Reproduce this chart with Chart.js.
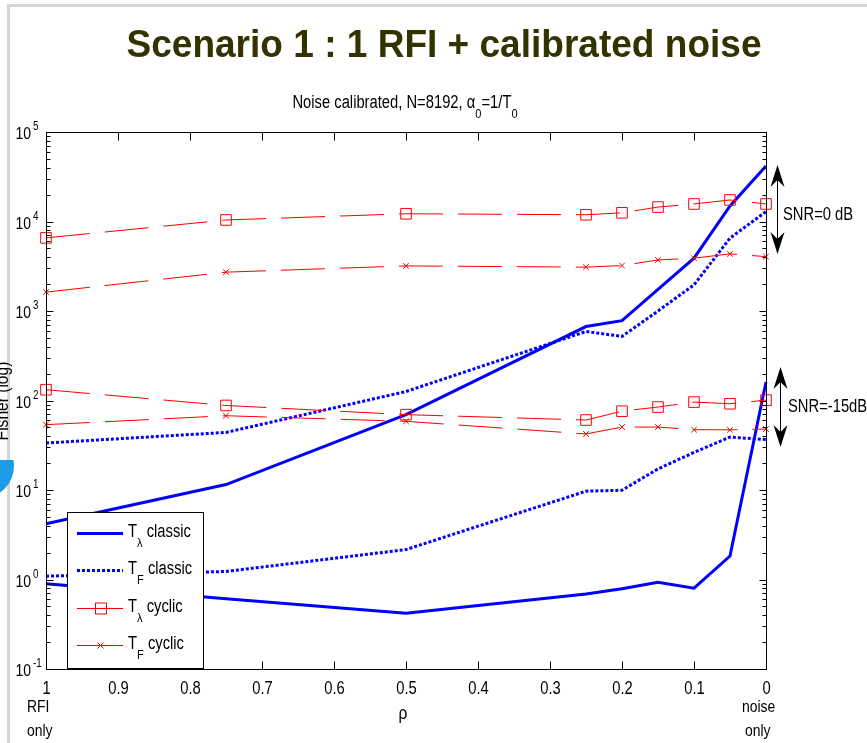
<!DOCTYPE html>
<html>
<head>
<meta charset="utf-8">
<script src="https://cdn.jsdelivr.net/npm/chart.js@4/dist/chart.umd.min.js"></script>
<style>
  html, body { margin: 0; padding: 0; background: #fff; }
  canvas { display: block; }
</style>
</head>
<body>
<canvas id="c" width="867" height="743"></canvas>
<script>
// ---------------- data ----------------
const rho = [1, 0.75, 0.5, 0.25, 0.2, 0.15, 0.1, 0.05, 0];

// SNR = 0 dB
const tLambdaClassic0 = [4.2, 11.5, 69.5, 670, 780, 1740, 3890, 14900, 41800];
const tFClassic0      = [33.5, 44, 126, 590, 520, 1000, 1960, 6520, 12900];
const tLambdaCyclic0  = [6560, 10400, 12200, 11900, 12500, 14500, 15700, 17400, 15700];
const tFCyclic0       = [1625, 2716, 3190, 3090, 3220, 3720, 3890, 4350, 4050];

// SNR = -15 dB
const tLambdaClassic15 = [0.895, 0.61, 0.42, 0.69, 0.79, 0.93, 0.80, 1.83, 161];
const tFClassic15      = [1.09, 1.23, 2.16, 9.7, 9.95, 17.2, 26.3, 39, 36.6];
const tLambdaCyclic15  = [132, 88, 69.5, 60.5, 76, 84.5, 96, 92, 101];
const tFCyclic15       = [53.7, 67.6, 58.5, 42.3, 50.5, 50.5, 47.2, 47, 48];

const xTickValues = [1, 0.9, 0.8, 0.7, 0.6, 0.5, 0.4, 0.3, 0.2, 0.1, 0];
const xTickLabels = ['1', '0.9', '0.8', '0.7', '0.6', '0.5', '0.4', '0.3', '0.2', '0.1', '0'];
const yTickExponents = [-1, 0, 1, 2, 3, 4, 5];

const titleText = 'Scenario 1 : 1 RFI + calibrated noise';
const xAxisTitle = 'ρ';
const yAxisTitle = 'Fisher (log)';
const snrLabels = ['SNR=0 dB', 'SNR=-15dB'];

// ---------------- styles ----------------
const BLUE = '#0000ff', RED = '#ff0000';
const FONT = '"Liberation Sans", Arial, sans-serif';
const SX = 0.82; // horizontal condensing of chart text

function pts(vals) { return vals.map((v, i) => ({ x: rho[i], y: v })); }

const solidBlue = { borderColor: BLUE, borderWidth: 3, pointRadius: 0, borderDash: [] };
const dotBlue   = { borderColor: BLUE, borderWidth: 3, pointRadius: 0, borderDash: [3, 2] };
const redSquare = { borderColor: RED, borderWidth: 1, borderDash: [44, 15], pointStyle: 'rect',
                    pointRadius: 7.5, pointBorderColor: RED, pointBackgroundColor: 'rgba(0,0,0,0)', pointBorderWidth: 1 };
const redCross  = { borderColor: RED, borderWidth: 1, borderDash: [44, 15], pointStyle: 'crossRot',
                    pointRadius: 4, pointBorderColor: RED, pointBorderWidth: 1 };

const datasets = [
  Object.assign({ data: pts(tLambdaCyclic0) }, redSquare),
  Object.assign({ data: pts(tFCyclic0) }, redCross),
  Object.assign({ data: pts(tLambdaCyclic15) }, redSquare),
  Object.assign({ data: pts(tFCyclic15) }, redCross),
  Object.assign({ data: pts(tLambdaClassic0) }, solidBlue),
  Object.assign({ data: pts(tFClassic0) }, dotBlue),
  Object.assign({ data: pts(tLambdaClassic15) }, solidBlue),
  Object.assign({ data: pts(tFClassic15) }, dotBlue),
].map(d => Object.assign(d, { fill: false, tension: 0, clip: false, pointHoverRadius: 0 }));

// ---------------- text helpers ----------------
function setFont(ctx, size, bold) { ctx.font = (bold ? 'bold ' : '') + size + 'px ' + FONT; }
// parts: [text, mode] mode 0 normal, 1 subscript, 2 superscript
function partsWidth(ctx, parts, size, sx, bold) {
  let w = 0;
  for (const [t, m] of parts) {
    setFont(ctx, m ? size * 0.75 : size, bold);
    w += ctx.measureText(t).width * sx;
  }
  return w;
}
function drawParts(ctx, parts, x, y, size, align, sx, bold) {
  sx = sx || SX;
  const w = partsWidth(ctx, parts, size, sx, bold);
  let cx = align === 'center' ? x - w / 2 : align === 'right' ? x - w : x;
  ctx.textAlign = 'left';
  ctx.textBaseline = 'alphabetic';
  for (const [t, m] of parts) {
    const s = m ? size * 0.75 : size;
    setFont(ctx, s, bold);
    const dy = m === 1 ? size * 0.58 : m === 2 ? -size * 0.5 : 0;
    ctx.save();
    ctx.translate(cx, y + dy);
    ctx.scale(sx, 1);
    ctx.fillText(t, 0, 0);
    ctx.restore();
    cx += ctx.measureText(t).width * sx;
  }
}
function drawArrowHead(ctx, x, y, dir) {
  ctx.beginPath();
  ctx.moveTo(x, y);
  ctx.lineTo(x - 7, y + dir * 22);
  ctx.lineTo(x, y + dir * 15);
  ctx.lineTo(x + 7, y + dir * 22);
  ctx.closePath();
  ctx.fill();
}
function drawDoubleArrow(ctx, x, y1, y2) {
  ctx.beginPath();
  ctx.moveTo(x + 0.5, y1 + 10);
  ctx.lineTo(x + 0.5, y2 - 10);
  ctx.stroke();
  drawArrowHead(ctx, x + 0.5, y1, 1);
  drawArrowHead(ctx, x + 0.5, y2, -1);
}

const legendItems = [
  { parts: [['T', 0], ['λ', 1], [' classic', 0]], style: solidBlue, marker: null },
  { parts: [['T', 0], ['F', 1], [' classic', 0]], style: dotBlue, marker: null },
  { parts: [['T', 0], ['λ', 1], [' cyclic', 0]], style: { borderColor: RED, borderWidth: 1, borderDash: [] }, marker: 'square' },
  { parts: [['T', 0], ['F', 1], [' cyclic', 0]], style: { borderColor: RED, borderWidth: 1, borderDash: [] }, marker: 'cross' },
];

const decor = {
  id: 'decor',
  beforeDraw(chart) {
    const ctx = chart.ctx;
    ctx.save();
    ctx.fillStyle = '#fff';
    ctx.fillRect(0, 0, chart.width, chart.height);
    // slide frame
    ctx.fillStyle = '#d6d6d6';
    ctx.fillRect(7, 4, chart.width - 7, 3);
    ctx.fillRect(7, 4, 3, chart.height - 4);
    // blue blob at the left edge
    ctx.beginPath();
    ctx.rect(0, 460, 15, 45);
    ctx.clip();
    ctx.fillStyle = '#1e9be8';
    ctx.beginPath();
    ctx.arc(-18, 466, 32, 0, Math.PI * 2);
    ctx.fill();
    ctx.restore();
  },
  afterDraw(chart) {
    const { ctx, chartArea: ca, scales } = chart;
    const xs = scales.x, ys = scales.y;
    ctx.save();
    ctx.fillStyle = '#000';
    ctx.strokeStyle = '#000';
    ctx.lineWidth = 1;
    ctx.setLineDash([]);
    const L = Math.round(ca.left) + 0.5, R = Math.round(ca.right) + 0.5;
    const T = Math.round(ca.top) + 0.5, B = Math.round(ca.bottom) + 0.5;

    // x ticks + labels
    xTickValues.forEach((v, i) => {
      const px = Math.round(xs.getPixelForValue(v)) + 0.5;
      ctx.beginPath();
      ctx.moveTo(px, B); ctx.lineTo(px, B - 8);
      ctx.moveTo(px, T); ctx.lineTo(px, T + 8);
      ctx.stroke();
      drawParts(ctx, [[xTickLabels[i], 0]], px, 694, 18, 'center');
    });
    // y ticks (major + minor) + labels
    yTickExponents.forEach(e => {
      const v = Math.pow(10, e);
      const py = Math.round(ys.getPixelForValue(v)) + 0.5;
      ctx.beginPath();
      ctx.moveTo(L, py); ctx.lineTo(L + 7, py);
      ctx.moveTo(R, py); ctx.lineTo(R - 7, py);
      ctx.stroke();
      if (e < 5) {
        for (let m = 2; m <= 9; m++) {
          const pm = Math.round(ys.getPixelForValue(m * v)) + 0.5;
          ctx.beginPath();
          ctx.moveTo(L, pm); ctx.lineTo(L + 4, pm);
          ctx.moveTo(R, pm); ctx.lineTo(R - 4, pm);
          ctx.stroke();
        }
      }
      drawParts(ctx, [['10', 0]], 31, py + 6, 17, 'right');
      drawParts(ctx, [[String(e), 0]], 33, py - 3, 12, 'left');
    });
    // box
    ctx.strokeRect(L, T, R - L, B - T);

    // axis labels
    drawParts(ctx, [[xAxisTitle, 0]], 403, 719, 19, 'center');
    drawParts(ctx, [['RFI', 0]], 27, 712, 17, 'left');
    drawParts(ctx, [['only', 0]], 27, 736, 17, 'left');
    drawParts(ctx, [['noise', 0]], 742, 712, 17, 'left');
    drawParts(ctx, [['only', 0]], 745, 736, 17, 'left');

    // y axis title (clipped at the left edge)
    ctx.save();
    ctx.translate(8, (T + B) / 2);
    ctx.rotate(-Math.PI / 2);
    drawParts(ctx, [[yAxisTitle, 0]], 0, 0, 19, 'center');
    ctx.restore();

    // subtitle
    drawParts(ctx, [['Noise calibrated, N=8192, ', 0], ['α', 0], ['0', 1], ['=1/T', 0], ['0', 1]], 405, 108, 18, 'center');

    // title (bold, dark olive)
    ctx.fillStyle = '#333300';
    setFont(ctx, 38, true);
    const tw = ctx.measureText(titleText).width;
    drawParts(ctx, [[titleText, 0]], 444, 57, 38, 'center', 635 / tw, true);

    // SNR arrows + labels
    ctx.fillStyle = '#000'; ctx.strokeStyle = '#000'; ctx.lineWidth = 1;
    drawDoubleArrow(ctx, 777, 165, 254);
    drawDoubleArrow(ctx, 780, 367, 447);
    drawParts(ctx, [[snrLabels[0], 0]], 783, 220, 18, 'left');
    drawParts(ctx, [[snrLabels[1], 0]], 788, 412, 18, 'left');

    // legend
    ctx.fillStyle = '#fff';
    ctx.fillRect(67.5, 512.5, 136, 156);
    ctx.strokeStyle = '#000'; ctx.lineWidth = 1;
    ctx.strokeRect(67.5, 512.5, 136, 156);
    const rowsY = [533, 570, 608, 645];
    legendItems.forEach((it, i) => {
      const yy = rowsY[i] + 0.5;
      ctx.strokeStyle = it.style.borderColor;
      ctx.lineWidth = it.style.borderWidth;
      ctx.setLineDash(it.style.borderDash || []);
      ctx.beginPath(); ctx.moveTo(77, yy); ctx.lineTo(123, yy); ctx.stroke();
      ctx.setLineDash([]);
      if (it.marker === 'square') {
        ctx.lineWidth = 1;
        ctx.strokeRect(95.5, yy - 5.5, 11, 11);
      } else if (it.marker === 'cross') {
        ctx.lineWidth = 1;
        ctx.beginPath();
        ctx.moveTo(97.5, yy - 3); ctx.lineTo(103.5, yy + 3);
        ctx.moveTo(103.5, yy - 3); ctx.lineTo(97.5, yy + 3);
        ctx.stroke();
      }
      ctx.fillStyle = '#000';
      drawParts(ctx, it.parts, 128, rowsY[i] + 4, 18, 'left');
    });
    ctx.restore();
  }
};

new Chart(document.getElementById('c'), {
  type: 'line',
  data: { datasets },
  options: {
    responsive: false,
    animation: false,
    events: [],
    layout: { padding: { left: 46, right: 101, top: 132, bottom: 74 } },
    plugins: { legend: { display: false }, tooltip: { enabled: false }, title: { display: false } },
    scales: {
      x: {
        type: 'linear', reverse: true, min: 0, max: 1,
        grid: { display: false }, border: { display: false },
        ticks: { display: false },
        afterFit(s) { s.height = 0; }
      },
      y: {
        type: 'logarithmic', min: 0.1, max: 100000,
        grid: { display: false }, border: { display: false },
        ticks: { display: false },
        afterFit(s) { s.width = 0; }
      }
    }
  },
  plugins: [decor]
});
</script>
</body>
</html>
